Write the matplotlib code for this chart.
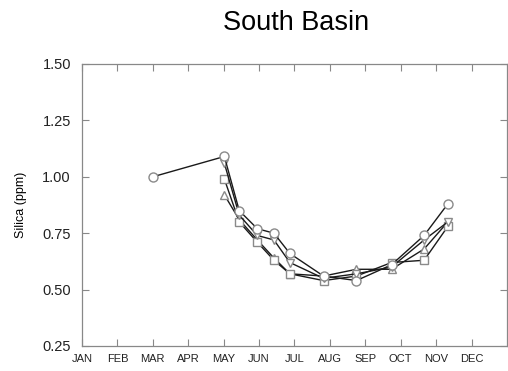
import matplotlib
matplotlib.use("Agg")
import matplotlib.pyplot as plt

plt.rcParams['font.family'] = ['Liberation Sans', 'DejaVu Sans']

months = ["JAN", "FEB", "MAR", "APR", "MAY", "JUN", "JUL", "AUG", "SEP", "OCT", "NOV", "DEC"]
yticks = [0.25, 0.50, 0.75, 1.00, 1.25, 1.50]

x_circle = [2.0, 4.02, 4.44, 4.95, 5.42, 5.87, 6.82, 7.75, 8.74, 9.66, 10.33]
y_circle = [1.00, 1.09, 0.85, 0.77, 0.75, 0.66, 0.56, 0.54, 0.61, 0.74, 0.88]

x_common = [4.02, 4.44, 4.95, 5.42, 5.87, 6.82, 7.75, 8.74, 9.66, 10.33]
y_tridown = [1.06, 0.83, 0.74, 0.72, 0.62, 0.55, 0.57, 0.60, 0.72, 0.80]
y_square = [0.99, 0.80, 0.71, 0.63, 0.57, 0.54, 0.56, 0.62, 0.63, 0.78]
y_triup = [0.92, 0.81, 0.72, 0.64, 0.57, 0.56, 0.59, 0.59, 0.68, 0.80]

fig = plt.figure(figsize=(5.08, 3.71), dpi=100)
ax = fig.add_axes([0.1614, 0.0674, 0.8366, 0.7601])

lc = "#1a1a1a"
mc = "#8a8a8a"
kw = dict(color=lc, lw=1.0, markerfacecolor="white", markeredgecolor=mc, markeredgewidth=1.0)
ax.plot(x_common, y_triup, marker="^", ms=6, **kw)
ax.plot(x_common, y_square, marker="s", ms=5.5, **kw)
ax.plot(x_common, y_tridown, marker="v", ms=6, **kw)
ax.plot(x_circle, y_circle, marker="o", ms=6.5, **kw)

ax.set_xlim(0, 12)
ax.set_ylim(0.25, 1.50)
ax.set_xticks(range(12))
ax.set_xticklabels(months, fontsize=8)
ax.set_yticks(yticks)
ax.set_yticklabels([f"{v:.2f}" for v in yticks], fontsize=10.5)
ax.tick_params(direction="in", length=5, width=0.8, color="#888888",
               top=True, right=True, labelcolor="#222222")
ax.tick_params(axis="y", pad=8)
ax.tick_params(axis="x", pad=6)
for s in ax.spines.values():
    s.set_color("#888888")
    s.set_linewidth(0.9)

ax.set_ylabel("Silica (ppm)", fontsize=9, labelpad=11)
fig.text(0.583, 0.937, "South Basin", ha="center", va="center", fontsize=19.5)

fig.savefig("out.png", dpi=100)
